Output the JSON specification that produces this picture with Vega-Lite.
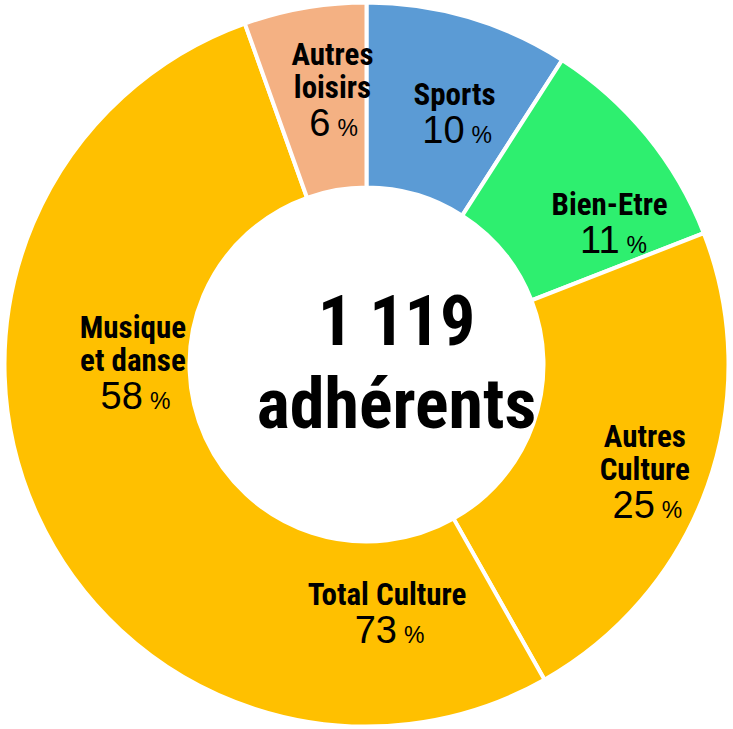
{
  "$schema": "https://vega.github.io/schema/vega-lite/v6.json",
  "width": 733,
  "height": 729,
  "autosize": {"type": "fit", "contains": "padding"},
  "padding": 0,
  "background": "white",
  "view": {"stroke": null},
  "datasets": {
    "parts": [
      {"cat": "Sports", "name": "Sports", "value": 10, "ord": 1},
      {"cat": "Bien-Etre", "name": "Bien-Etre", "value": 11, "ord": 2},
      {"cat": "Autres Culture", "name": "Autres\nCulture", "value": 25, "ord": 3},
      {"cat": "Musique et danse", "name": "Musique\net danse", "value": 58, "ord": 4},
      {"cat": "Autres loisirs", "name": "Autres\nloisirs", "value": 6, "ord": 5}
    ],
    "total": [{"name": "Total Culture", "value": 73}],
    "center": [{"t": "1 119\nadhérents"}]
  },
  "layer": [
    {
      "data": {"name": "parts"},
      "mark": {"type": "arc", "outerRadius": 362, "innerRadius": 177, "stroke": "white", "strokeWidth": 4},
      "encoding": {
        "theta": {"field": "value", "type": "quantitative", "stack": true},
        "order": {"field": "ord", "type": "quantitative"},
        "color": {
          "field": "cat", "type": "nominal", "legend": null,
          "scale": {
            "domain": ["Sports", "Bien-Etre", "Autres Culture", "Musique et danse", "Autres loisirs"],
            "range": ["#5B9BD5", "#2EEF6F", "#FFC000", "#FFC000", "#F4B183"]
          }
        }
      }
    },
    {
      "data": {"name": "parts"},
      "mark": {
        "type": "text", "radius": 270, "font": "'Roboto Condensed', 'DejaVu Sans Condensed', sans-serif", "fontWeight": "bold",
        "fontSize": 31, "lineHeight": 33, "lineBreak": "\n", "align": "center", "baseline": "alphabetic", "fill": "black",
        "dx": {"expr": "(datum.cat==='Bien-Etre'?34:datum.cat==='Autres Culture'?24:12)"},
        "dy": {"expr": "(datum.cat==='Bien-Etre'?59:datum.cat==='Autres Culture'?63:datum.cat==='Musique et danse'?-68:38) - 38 - (indexof(datum.name,'\\n')>=0?33:0)"}
      },
      "encoding": {
        "theta": {"field": "value", "type": "quantitative", "stack": true},
        "order": {"field": "ord", "type": "quantitative"},
        "text": {"field": "name", "type": "nominal"}
      }
    },
    {
      "data": {"name": "parts"},
      "mark": {
        "type": "text", "radius": 270, "font": "Liberation Sans", "fontSize": 38, "align": "right", "baseline": "alphabetic", "fill": "black",
        "dx": {"expr": "(datum.cat==='Bien-Etre'?34:datum.cat==='Autres Culture'?24:12) + (datum.value>=10?10:-2)"},
        "dy": {"expr": "(datum.cat==='Bien-Etre'?59:datum.cat==='Autres Culture'?63:datum.cat==='Musique et danse'?-68:38)"}
      },
      "encoding": {
        "theta": {"field": "value", "type": "quantitative", "stack": true},
        "order": {"field": "ord", "type": "quantitative"},
        "text": {"field": "value", "type": "quantitative"}
      }
    },
    {
      "data": {"name": "parts"},
      "mark": {
        "type": "text", "radius": 270, "font": "Liberation Sans", "fontSize": 23, "align": "left", "baseline": "alphabetic", "fill": "black", "text": "%",
        "dx": {"expr": "(datum.cat==='Bien-Etre'?34:datum.cat==='Autres Culture'?24:12) + (datum.value>=10?17:5)"},
        "dy": {"expr": "(datum.cat==='Bien-Etre'?59:datum.cat==='Autres Culture'?63:datum.cat==='Musique et danse'?-68:38)"}
      },
      "encoding": {
        "theta": {"field": "value", "type": "quantitative", "stack": true},
        "order": {"field": "ord", "type": "quantitative"}
      }
    },
    {
      "data": {"name": "total"},
      "mark": {"type": "text", "font": "'Roboto Condensed', 'DejaVu Sans Condensed', sans-serif", "fontWeight": "bold", "fontSize": 31, "align": "center", "baseline": "alphabetic", "fill": "black", "dx": 20.5, "dy": 240.5},
      "encoding": {"text": {"field": "name", "type": "nominal"}}
    },
    {
      "data": {"name": "total"},
      "mark": {"type": "text", "font": "Liberation Sans", "fontSize": 38, "align": "right", "baseline": "alphabetic", "fill": "black", "dx": 30.5, "dy": 278.5},
      "encoding": {"text": {"field": "value", "type": "quantitative"}}
    },
    {
      "data": {"name": "total"},
      "mark": {"type": "text", "font": "Liberation Sans", "fontSize": 23, "align": "left", "baseline": "alphabetic", "fill": "black", "text": "%", "dx": 37.5, "dy": 278.5},
      "encoding": {}
    },
    {
      "data": {"name": "center"},
      "mark": {"type": "text", "font": "'Roboto Condensed', 'DejaVu Sans Condensed', sans-serif", "fontWeight": "bold", "fontSize": 70, "lineHeight": 83, "lineBreak": "\n", "align": "center", "baseline": "alphabetic", "fill": "black", "dx": 30, "dy": -19.5},
      "encoding": {"text": {"field": "t", "type": "nominal"}}
    }
  ]
}
